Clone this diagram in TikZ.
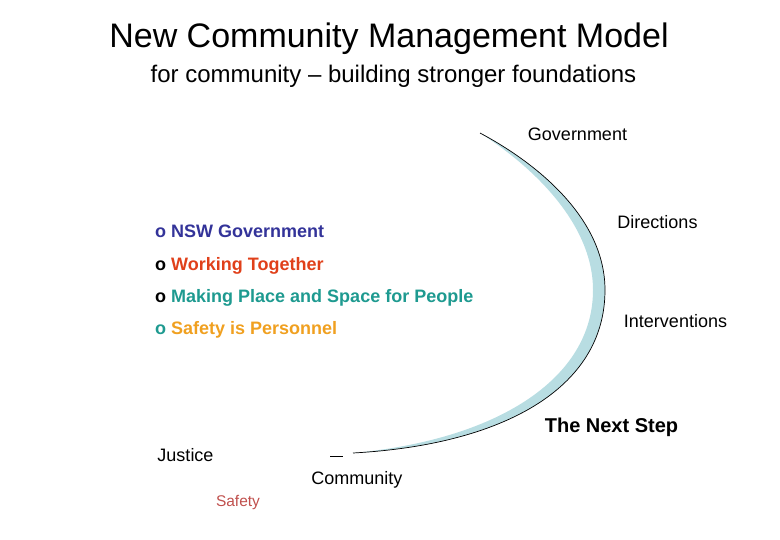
\documentclass[tikz,border=0pt]{standalone}
\usepackage{fontspec}
\setmainfont{Liberation Sans}
\definecolor{nswblue}{HTML}{333399}
\definecolor{workred}{HTML}{E0401A}
\definecolor{placeteal}{HTML}{1E9A90}
\definecolor{safeorange}{HTML}{F0A020}
\definecolor{safetyred}{HTML}{C0504D}
\definecolor{bandblue}{HTML}{B8DDE2}
\begin{document}
\begin{tikzpicture}[x=1pt,y=-1pt,
  lbl/.style={anchor=base,inner sep=0pt,font=\fontsize{18}{20}\selectfont},
  item/.style={anchor=base west,inner sep=0pt,font=\fontsize{18}{20}\selectfont\bfseries}]
\useasboundingbox (0,0) rectangle (780,540);
\coordinate (top) at (480,133);
\coordinate (right) at (605,290);
\coordinate (iright) at (593,290);
\coordinate (bot) at (353,453);
% band
\fill[bandblue] (top) .. controls (540,165) and (605,220) .. (right)
  .. controls (605,390) and (500,445) .. (bot)
  .. controls (495,440) and (593,380) .. (iright)
  .. controls (593,225) and (535,168) .. (top) -- cycle;
\draw[line width=0.7pt] (top) .. controls (540,165) and (605,220) .. (right)
  .. controls (605,390) and (500,445) .. (bot);
\draw[line width=0.7pt] (330,456.5) -- (343,456.5);
% titles
\node[anchor=base,inner sep=0pt,font=\fontsize{34}{38}\selectfont] (title) at (389,48) {New Community Management Model};
\node[anchor=base,inner sep=0pt,font=\fontsize{24}{28}\selectfont] (sub) at (393.5,83) {for community -- building stronger foundations};
% labels
\node[lbl] (gov) at (577.5,140.5) {Government};
\node[lbl] (dir) at (657.5,228.5) {Directions};
\node[lbl] (int) at (675.5,327.5) {Interventions};
\node[lbl,font=\fontsize{20}{22}\selectfont\bfseries] (next) at (611.5,432) {The Next Step};
\node[lbl] (just) at (185.5,461.5) {Justice};
\node[lbl] (comm) at (357,484.5) {Community};
\node[lbl,font=\fontsize{15.5}{18}\selectfont,text=safetyred] (safety) at (238,506.5) {Safety};
% list
\node[item] (i1) at (155,237.5) {\textcolor{nswblue}{o NSW Government}};
\node[item] (i2) at (155,270.5) {o \textcolor{workred}{Working Together}};
\node[item] (i3) at (155,302.5) {o \textcolor{placeteal}{Making Place and Space for People}};
\node[item] (i4) at (155,334.5) {\textcolor{placeteal}{o} \textcolor{safeorange}{Safety is Personnel}};
\end{tikzpicture}
\end{document}
